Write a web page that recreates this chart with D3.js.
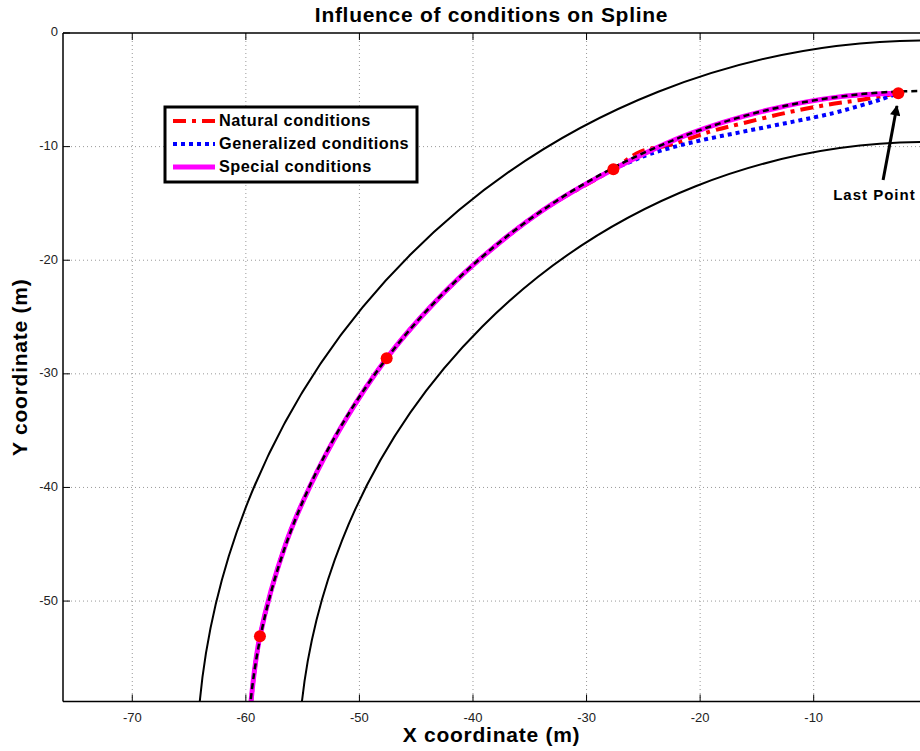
<!DOCTYPE html>
<html>
<head>
<meta charset="utf-8">
<script src="https://cdn.jsdelivr.net/npm/d3@7"></script>
<style>
  body { margin: 0; background: #fff; }
  svg { display: block; font-family: "Liberation Sans", Arial, sans-serif; }
</style>
</head>
<body>
<div id="chart"></div>
<script>
// ---- data (metres) ----
const xTicks = [-70, -60, -50, -40, -30, -20, -10];
const yTicks = [0, -10, -20, -30, -40, -50];

// road: centre of the bend and the radii of its edges / centre line
const roadCenter = [0, -65];
const roadEdges = [64.35, 55.4];
const centerLineRadius = 59.9;

// spline knots
const knots = [[-58.76, -53.1], [-47.6, -28.62], [-27.64, -11.99], [-2.55, -5.3]];

const naturalPts = [
  [-59.55, -58.9], [-58.76, -53.1], [-56.5, -45.0], [-54.4, -40.0], [-51.5, -34.5],
  [-47.6, -28.62], [-43.55, -23.9], [-39.5, -20.0], [-33.85, -15.6], [-27.64, -11.99],
  [-25.28, -10.45], [-22.68, -9.86], [-19.13, -8.68], [-16.22, -7.94], [-12.37, -7.01],
  [-8.85, -6.33], [-5.92, -5.89], [-2.55, -5.3]
];
const generalizedPts = [
  [-59.55, -58.9], [-58.76, -53.1], [-56.5, -45.0], [-54.4, -40.0], [-51.5, -34.5],
  [-47.6, -28.62], [-43.55, -23.9], [-39.5, -20.0], [-33.85, -15.6], [-27.64, -11.99],
  [-26.1, -11.32], [-24.42, -10.65], [-20.6, -9.6], [-16.2, -8.68], [-11.79, -7.8],
  [-8.27, -7.05], [-5.92, -6.4], [-4.16, -5.87], [-2.55, -5.3]
];
const specialPts = [
  [-59.55, -58.9], [-58.76, -53.1], [-56.5, -45.0], [-54.4, -40.0], [-51.5, -34.5],
  [-47.6, -28.62], [-43.55, -23.9], [-39.5, -20.0], [-33.85, -15.6], [-27.64, -11.99],
  [-21.0, -8.9], [-14.1, -6.8], [-7.6, -5.6], [-2.55, -5.3]
];

const legendNames = ["Natural conditions", "Generalized conditions", "Special conditions"];

// annotation: arrow tail, arrow tip, label position
const arrowTail = [-3.89, -12.94];
const arrowTip = [-2.67, -6.42];
const labelPos = [-4.65, -14.35];

// ---- layout ----
const W = 920, H = 751;
const pL = 63, pT = 33, pR = 920, pB = 701.5;

const svg = d3.select("#chart").append("svg")
  .attr("width", W)
  .attr("height", H);

const x = d3.scaleLinear().domain([-76.1, -0.64]).range([pL, pR]);
const y = d3.scaleLinear().domain([-58.84, 0]).range([pB, pT]);

const defs = svg.append("defs");
defs.append("clipPath").attr("id", "plotClip")
  .append("rect")
  .attr("x", pL).attr("y", pT)
  .attr("width", pR - pL).attr("height", pB - pT);

defs.append("marker")
  .attr("id", "arrowHead")
  .attr("viewBox", "0 0 10 10")
  .attr("refX", 9).attr("refY", 5)
  .attr("markerWidth", 4).attr("markerHeight", 3.5)
  .attr("markerUnits", "strokeWidth")
  .attr("orient", "auto")
  .append("path")
  .attr("d", "M0,0 L10,5 L0,10 z")
  .attr("fill", "#000");

// grid
const grid = svg.append("g").attr("stroke", "#999").attr("stroke-width", 1).attr("stroke-dasharray", "1,3");
grid.selectAll("line.vx").data(xTicks).join("line")
  .attr("x1", d => x(d)).attr("x2", d => x(d))
  .attr("y1", pT).attr("y2", pB);
grid.selectAll("line.hy").data(yTicks.filter(d => d !== 0)).join("line")
  .attr("x1", pL).attr("x2", pR)
  .attr("y1", d => y(d)).attr("y2", d => y(d));

const plot = svg.append("g").attr("clip-path", "url(#plotClip)");

// road edges
const cx = x(roadCenter[0]), cy = y(roadCenter[1]);
plot.selectAll("ellipse.edge").data(roadEdges).join("ellipse")
  .attr("cx", cx).attr("cy", cy)
  .attr("rx", r => x(r) - x(0))
  .attr("ry", r => y(-r) - y(0))
  .attr("fill", "none")
  .attr("stroke", "#000")
  .attr("stroke-width", 2);

const line = d3.line()
  .x(d => x(d[0]))
  .y(d => y(d[1]))
  .curve(d3.curveCatmullRom.alpha(0.5));

const series = [
  { name: legendNames[0], pts: naturalPts, color: "#ff0000", width: 4, dash: "13,6,4,6" },
  { name: legendNames[1], pts: generalizedPts, color: "#0000ff", width: 4, dash: "4,4" },
  { name: legendNames[2], pts: specialPts, color: "#ff00ff", width: 5, dash: null }
];

series.forEach(s => {
  plot.append("path")
    .datum(s.pts)
    .attr("d", line)
    .attr("fill", "none")
    .attr("stroke", s.color)
    .attr("stroke-width", s.width)
    .attr("stroke-dasharray", s.dash);
});

// reference centre line (dashed)
plot.append("ellipse")
  .attr("cx", cx).attr("cy", cy)
  .attr("rx", x(centerLineRadius) - x(0))
  .attr("ry", y(-centerLineRadius) - y(0))
  .attr("fill", "none")
  .attr("stroke", "#000")
  .attr("stroke-width", 2.5)
  .attr("stroke-dasharray", "6,4");

// knots
plot.selectAll("circle.knot").data(knots).join("circle")
  .attr("cx", d => x(d[0]))
  .attr("cy", d => y(d[1]))
  .attr("r", 6)
  .attr("fill", "#ff0000");

// annotation
svg.append("line")
  .attr("x1", x(arrowTail[0])).attr("y1", y(arrowTail[1]))
  .attr("x2", x(arrowTip[0])).attr("y2", y(arrowTip[1]))
  .attr("stroke", "#000")
  .attr("stroke-width", 3)
  .attr("marker-end", "url(#arrowHead)");
svg.append("text")
  .attr("x", x(labelPos[0])).attr("y", y(labelPos[1]))
  .attr("text-anchor", "middle")
  .attr("dominant-baseline", "middle")
  .attr("font-size", 15)
  .attr("letter-spacing", 1)
  .attr("font-weight", "bold")
  .text("Last Point");

// axes box lines
const axisG = svg.append("g").attr("stroke", "#000").attr("stroke-width", 1.5);
axisG.append("line").attr("x1", pL).attr("x2", pR).attr("y1", pB).attr("y2", pB);
axisG.append("line").attr("x1", pL).attr("x2", pR).attr("y1", pT).attr("y2", pT);
axisG.append("line").attr("x1", pL).attr("x2", pL).attr("y1", pT).attr("y2", pB);

// ticks (inside)
const tickLen = 7;
axisG.selectAll("line.xb").data(xTicks).join("line")
  .attr("x1", d => x(d)).attr("x2", d => x(d))
  .attr("y1", pB).attr("y2", pB - tickLen).attr("stroke-width", 1);
axisG.selectAll("line.xt").data(xTicks).join("line")
  .attr("x1", d => x(d)).attr("x2", d => x(d))
  .attr("y1", pT).attr("y2", pT + tickLen).attr("stroke-width", 1);
axisG.selectAll("line.yl").data(yTicks).join("line")
  .attr("x1", pL).attr("x2", pL + tickLen)
  .attr("y1", d => y(d)).attr("y2", d => y(d)).attr("stroke-width", 1);

svg.append("g").selectAll("text").data(xTicks).join("text")
  .attr("x", d => x(d)).attr("y", pB + 20)
  .attr("text-anchor", "middle")
  .attr("font-size", 13)
  .attr("fill", "#222")
  .text(d => d);
svg.append("g").selectAll("text").data(yTicks).join("text")
  .attr("x", pL - 5).attr("y", d => y(d))
  .attr("text-anchor", "end")
  .attr("dominant-baseline", "middle")
  .attr("font-size", 13)
  .attr("fill", "#222")
  .text(d => d);

// title + axis labels
svg.append("text")
  .attr("x", (pL + pR) / 2).attr("y", 22)
  .attr("text-anchor", "middle")
  .attr("font-size", 21)
  .attr("letter-spacing", 0.7)
  .attr("font-weight", "bold")
  .text("Influence of conditions on Spline");
svg.append("text")
  .attr("x", (pL + pR) / 2).attr("y", 742)
  .attr("text-anchor", "middle")
  .attr("font-size", 21)
  .attr("letter-spacing", 0.75)
  .attr("font-weight", "bold")
  .text("X coordinate (m)");
svg.append("text")
  .attr("transform", `translate(27,${(pT + pB) / 2}) rotate(-90)`)
  .attr("text-anchor", "middle")
  .attr("font-size", 21)
  .attr("letter-spacing", 0.75)
  .attr("font-weight", "bold")
  .text("Y coordinate (m)");

// legend
const lg = svg.append("g").attr("transform", "translate(165,107)");
lg.append("rect")
  .attr("width", 252).attr("height", 75)
  .attr("fill", "#fff")
  .attr("stroke", "#000")
  .attr("stroke-width", 3);
series.forEach((s, i) => {
  const ly = 14 + i * 23;
  lg.append("line")
    .attr("x1", 8).attr("x2", 50)
    .attr("y1", ly).attr("y2", ly)
    .attr("stroke", s.color)
    .attr("stroke-width", s.width)
    .attr("stroke-dasharray", s.dash);
  lg.append("text")
    .attr("x", 54).attr("y", ly + 1)
    .attr("dominant-baseline", "middle")
    .attr("font-size", 16.3)
    .attr("letter-spacing", 0.5)
    .attr("font-weight", "bold")
    .text(s.name);
});
</script>
</body>
</html>
